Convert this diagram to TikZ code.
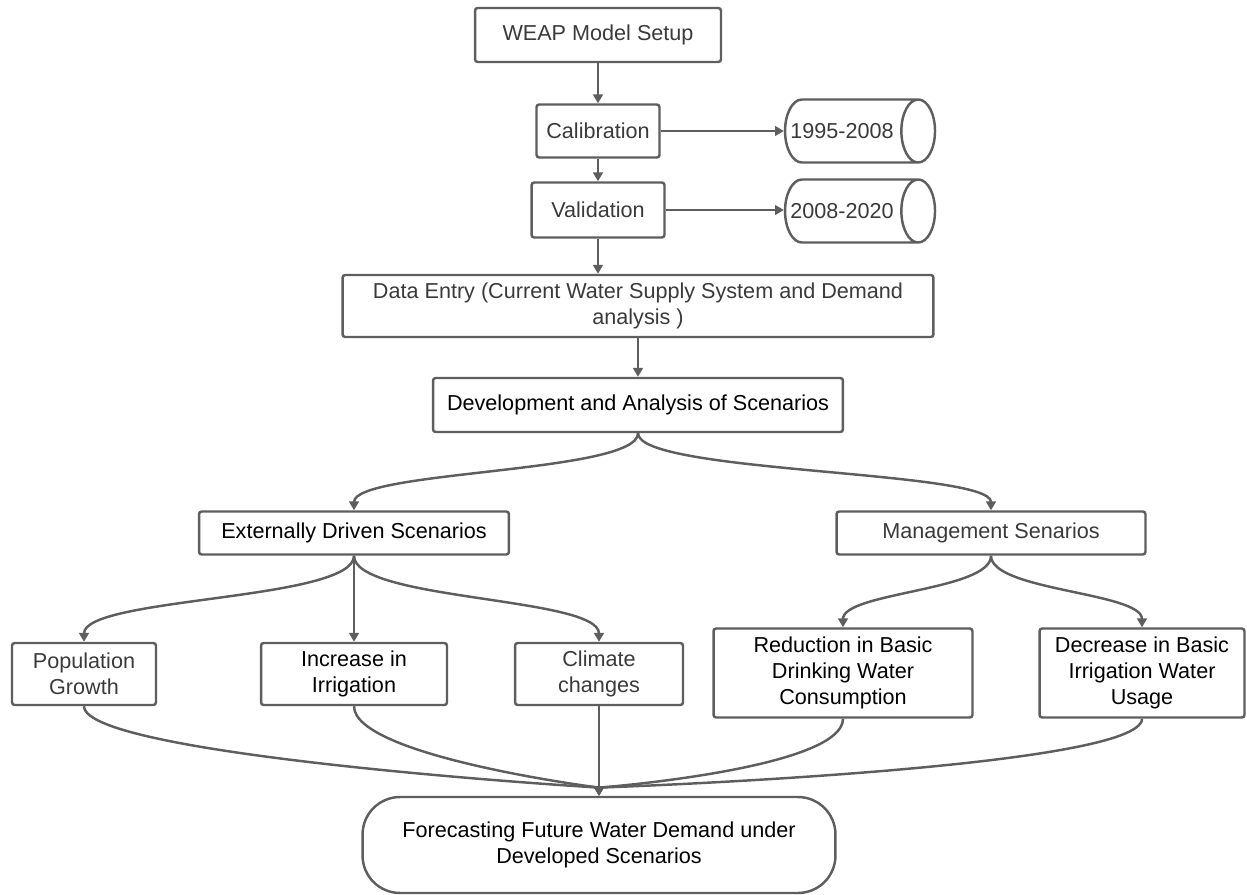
\documentclass[tikz,border=0pt]{standalone}
\usepackage{fontspec}
\setmainfont{Liberation Sans}
\usetikzlibrary{arrows.meta, shapes.geometric, calc}
\definecolor{cline}{HTML}{5E5E5E}
\definecolor{ctext}{HTML}{3A3A3A}
\tikzset{
  every picture/.style={line width=1.4pt},
  box/.style={draw=cline, rounded corners=1.5pt, align=center, text=#1, inner sep=0pt,
              font=\fontsize{12.3}{15}\selectfont},
  box/.default=ctext,
  store/.style={cylinder, draw=cline, shape aspect=2.2, minimum height=3cm, minimum width=1.26cm,
                inner sep=0pt, text=ctext, font=\fontsize{12.3}{15}\selectfont},
  arrow/.style={-{Triangle[length=5pt, width=5.5pt]}, draw=cline},
}

\begin{document}
\begin{tikzpicture}[x=0.02cm, y=-0.02cm]
  \useasboundingbox (0,0) rectangle (1247,895);
  % calibration chain
  \node[box, minimum width=4.92cm, minimum height=1.08cm] (setup) at (598,35) {WEAP Model Setup};
  \node[box, minimum width=2.46cm, minimum height=1.06cm] (calib) at (598,131) {Calibration};
  \node[box, minimum width=2.66cm, minimum height=1.1cm] (valid) at (598,210) {Validation};
  \node[store] (per1) at (851,131) {\hspace*{-0.36cm}1995-2008};
  \node[store] (per2) at (851,211) {\hspace*{-0.36cm}2008-2020};
  \node[box, minimum width=11.82cm, minimum height=1.24cm] (data) at (638,306)
    {Data Entry (Current Water Supply System and Demand\\analysis )};
  \node[box=black, minimum width=8.2cm, minimum height=1.08cm] (dev) at (638,405) {Development and Analysis of Scenarios};
  % scenario groups
  \node[box=black, minimum width=6.2cm, minimum height=0.86cm] (ext) at (354,533) {Externally Driven Scenarios};
  \node[box, minimum width=6.18cm, minimum height=0.86cm] (mgmt) at (991,533) {Management Senarios};
  \node[box, minimum width=2.88cm, minimum height=1.24cm] (pop) at (84,674) {Population\\Growth};
  \node[box=black, minimum width=3.72cm, minimum height=1.24cm] (irr) at (354,674) {Increase in\\Irrigation};
  \node[box, minimum width=3.36cm, minimum height=1.24cm] (clim) at (599,674) {Climate\\changes};
  \node[box=black, minimum width=5.18cm, minimum height=1.78cm] (red) at (843,673)
    {Reduction in Basic\\Drinking Water\\Consumption};
  \node[box=black, minimum width=4.1cm, minimum height=1.78cm] (dec) at (1142,673)
    {Decrease in Basic\\Irrigation Water\\Usage};
  \node[box=black, rounded corners=0.75cm, minimum width=9.46cm, minimum height=1.92cm] (fc) at (599,845)
    {Forecasting Future Water Demand under\\Developed Scenarios};

  \draw[arrow] (setup) -- (calib);
  \draw[arrow] (calib) -- (valid);
  \draw[arrow] (valid.south) -- (valid.south |- data.north);
  \draw[arrow] (calib) -- (calib -| per1.west);
  \draw[arrow] (valid) -- (valid -| per2.west);
  \draw[arrow] (data) -- (dev);
  \draw[arrow] (dev.south) .. controls +(0,40) and +(0,-40) .. (ext.north);
  \draw[arrow] (dev.south) .. controls +(0,40) and +(0,-40) .. (mgmt.north);
  \foreach \k in {pop, clim}
    \draw[arrow] (ext.south) .. controls +(0,45) and +(0,-45) .. (\k.north);
  \draw[arrow] (ext) -- (irr);
  \foreach \k in {red, dec}
    \draw[arrow] (mgmt.south) .. controls +(0,35) and +(0,-35) .. (\k.north);
  % merge into the forecast
  \foreach \k in {pop, irr, red, dec}
    \draw[arrow] (\k.south) .. controls +(0,50) and +(0,-8) .. (fc.north);
  \draw[arrow] (clim) -- (fc);
\end{tikzpicture}
\end{document}
